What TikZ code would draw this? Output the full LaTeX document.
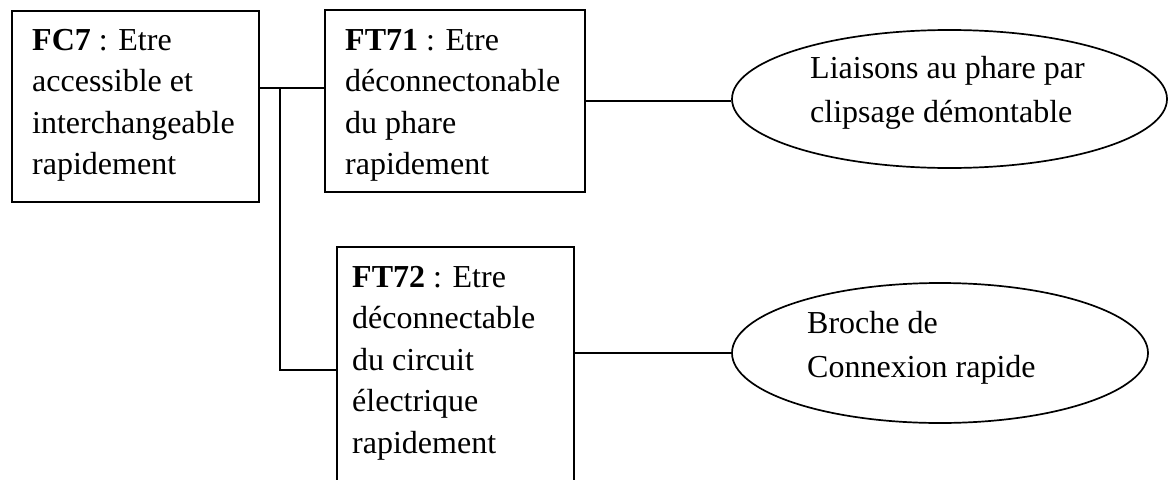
\documentclass[tikz,border=0pt]{standalone}
\usepackage{fontspec}
\setmainfont{Liberation Serif}
\usetikzlibrary{shapes.geometric,calc}

\begin{document}
\begin{tikzpicture}[x=1pt,y=-1pt,
  line/.style={draw=black,line width=1.7pt},
  fbox/.style={line,rectangle,inner sep=0pt,anchor=north west},
  bubble/.style={line,ellipse,inner sep=0pt},
  % texts are placed by the baseline of their last line
  boxtext/.style={anchor=base west,inner sep=0pt,align=left,
    font=\fontsize{32}{41.5}\selectfont},
  bubbletext/.style={anchor=base west,inner sep=0pt,align=left,
    font=\fontsize{32}{44}\selectfont}]
  \clip (0,0) rectangle (1169,479);
  \fill[white] (0,0) rectangle (1169,479);

  % function boxes
  \node[fbox,minimum width=247pt,minimum height=191pt] (fc7) at (11,10) {};
  \node[fbox,minimum width=260pt,minimum height=182pt] (ft71) at (324,9) {};
  \node[fbox,minimum width=237pt,minimum height=260pt] (ft72) at (336,246) {};

  % solution ellipses
  \node[bubble,minimum width=435pt,minimum height=138pt] (s1) at (949.5,99) {};
  \node[bubble,minimum width=416pt,minimum height=140pt] (s2) at (940,353) {};

  % texts
  \node[boxtext] (tfc7) at (32,174.5)
    {\textbf{FC7} : Etre\\accessible et\\interchangeable\\rapidement};
  \node[boxtext] (tft71) at (345,174.5)
    {\textbf{FT71} : Etre\\déconnectonable\\du phare\\rapidement};
  \node[boxtext] (tft72) at (352,453)
    {\textbf{FT72} : Etre\\déconnectable\\du circuit\\électrique\\rapidement};
  \node[bubbletext] (ts1) at (810,122) {Liaisons au phare par\\clipsage démontable};
  \node[bubbletext] (ts2) at (807,377) {Broche de\\Connexion rapide};

  % connectors
  \coordinate (j1) at (280,88);
  \coordinate (j2) at (280,370);
  \draw[line] (fc7.east |- j1) -- (ft71.west |- j1);
  \draw[line] (j1) -- (j2) -- (ft72.west |- j2);
  \draw[line] (ft71.east) -- (ft71.east -| s1.west);
  \draw[line] (ft72.east |- s2.west) -- (s2.west);
\end{tikzpicture}
\end{document}
